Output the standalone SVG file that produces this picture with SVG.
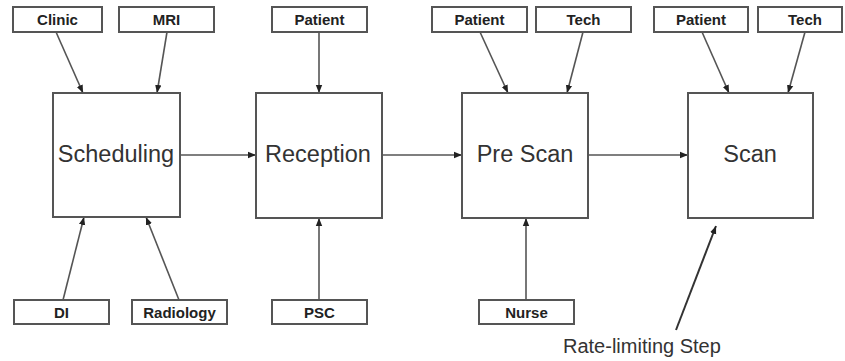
<svg xmlns="http://www.w3.org/2000/svg" width="845" height="361" viewBox="0 0 845 361">
<style>
.big{fill:#fff;stroke:#555;stroke-width:2}
.small{fill:#fff;stroke:#555;stroke-width:2}
.bt{font-family:"Liberation Sans",Arial,sans-serif;font-size:23.5px;fill:#333;text-anchor:middle}
.st{font-family:"Liberation Sans",Arial,sans-serif;font-size:15px;font-weight:bold;fill:#222;text-anchor:middle}
.c{stroke:#555;stroke-width:1.6;fill:none;marker-end:url(#ah)}
</style>
<defs>
<marker id="ah" viewBox="0 0 10 10" refX="10" refY="5" markerWidth="8" markerHeight="8" markerUnits="userSpaceOnUse" orient="auto">
<path d="M0,1 L10,5 L0,9 Z" fill="#222"/>
</marker>
</defs>
<rect width="845" height="361" fill="#fff"/>
<g id="connectors">
<line class="c" x1="56" y1="32" x2="83" y2="93"/>
<line class="c" x1="167" y1="32" x2="157" y2="93"/>
<line class="c" x1="63" y1="300" x2="84" y2="217"/>
<line class="c" x1="179" y1="300" x2="146" y2="217"/>
<line class="c" x1="180" y1="155" x2="256" y2="155"/>
<line class="c" x1="319" y1="32" x2="319" y2="93"/>
<line class="c" x1="319" y1="300" x2="319" y2="218"/>
<line class="c" x1="382" y1="155" x2="462" y2="155"/>
<line class="c" x1="480" y1="32" x2="508" y2="93"/>
<line class="c" x1="583" y1="32" x2="567" y2="93"/>
<line class="c" x1="526" y1="300" x2="526" y2="218"/>
<line class="c" x1="588" y1="155" x2="688" y2="155"/>
<line class="c" x1="702" y1="32" x2="729" y2="93"/>
<line class="c" x1="805" y1="32" x2="788" y2="93"/>
<line class="c" x1="676" y1="330" x2="716" y2="226" style="stroke:#333;stroke-width:2"/>
</g>
<g id="scheduling"><rect class="big" x="53" y="93" width="127" height="124"/><text class="bt" x="116" y="162">Scheduling</text></g>
<g id="reception"><rect class="big" x="256" y="93" width="126" height="125"/><text class="bt" x="318" y="162">Reception</text></g>
<g id="prescan"><rect class="big" x="462" y="93" width="126" height="125"/><text class="bt" x="525" y="162">Pre Scan</text></g>
<g id="scan"><rect class="big" x="688" y="93" width="125" height="125"/><text class="bt" x="750" y="162">Scan</text></g>
<g id="clinic"><rect class="small" x="13" y="7" width="89" height="25"/><text class="st" x="57.5" y="25">Clinic</text></g>
<g id="mri"><rect class="small" x="119" y="7" width="95" height="25"/><text class="st" x="166.5" y="25">MRI</text></g>
<g id="di"><rect class="small" x="14" y="300" width="95" height="24"/><text class="st" x="61.5" y="318">DI</text></g>
<g id="radiology"><rect class="small" x="132" y="300" width="95" height="24"/><text class="st" x="179.5" y="318">Radiology</text></g>
<g id="patient1"><rect class="small" x="272" y="7" width="95" height="25"/><text class="st" x="319.5" y="25">Patient</text></g>
<g id="psc"><rect class="small" x="272" y="300" width="95" height="24"/><text class="st" x="319.5" y="318">PSC</text></g>
<g id="patient2"><rect class="small" x="432" y="7" width="95" height="25"/><text class="st" x="479.5" y="25">Patient</text></g>
<g id="tech1"><rect class="small" x="536" y="7" width="95" height="25"/><text class="st" x="583.5" y="25">Tech</text></g>
<g id="nurse"><rect class="small" x="479" y="300" width="95" height="24"/><text class="st" x="526.5" y="318">Nurse</text></g>
<g id="patient3"><rect class="small" x="654" y="7" width="94" height="25"/><text class="st" x="701" y="25">Patient</text></g>
<g id="tech2"><rect class="small" x="758" y="7" width="84" height="25"/><text class="st" x="805" y="25">Tech</text></g>
<g id="ratelimiting"><text x="563" y="353" style="font-family:'Liberation Sans',Arial,sans-serif;font-size:20px;fill:#333">Rate-limiting Step</text></g>
</svg>
